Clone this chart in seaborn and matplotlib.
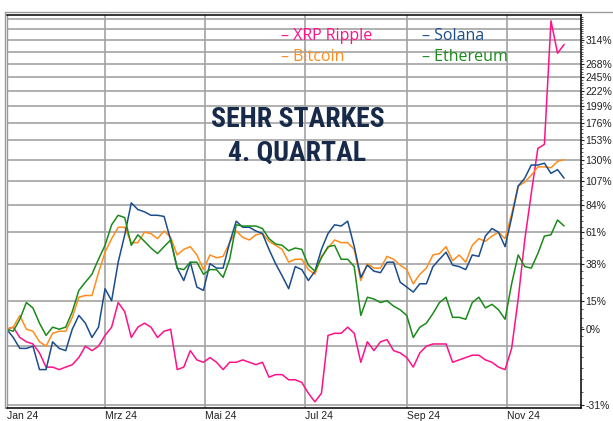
import pandas as pd
import numpy as np
import matplotlib
matplotlib.use("Agg")
import matplotlib.pyplot as plt
import matplotlib.font_manager as fm
from matplotlib.lines import Line2D
from matplotlib.ticker import FixedLocator, NullFormatter
import seaborn as sns

# sample dates, one value every 4 days from 1 Jan 2024
dates = pd.date_range("2024-01-01", periods=86, freq="4D")

# performance since start of year in %
xrp = [0, 1, -4, -6, -7, -11, -17, -17, -18, -17, -16, -13, -8, -10, -8, -3, 1, 14, 9, -4,
       1, 3, 1, -4, -1, 0, -18, -17, -10, -14,
       -15, -13, -15, -18, -15, -15, -14, -15, -16, -15, -21, -20, -20, -22, -22, -23, -27, -30, -27, -3,
       -2, -2, 1, -2, -15, -6, -10, -6, -5,
       -10, -11, -13, -17, -11, -8, -7, -7, -7, -15, -14, -13, -12, -12, -14, -15, -17, -18, -9, 16,
       55, 95, 143, 148, 355, 288, 305]
bitcoin = [0, 1, 7, 0, -1, -6, -8, -2, -1, -1, 6, 17, 18, 18, 32, 46, 56, 65, 65, 53,
           53, 61, 60, 56, 62, 57, 44, 48, 50, 44,
           34, 44, 42, 43, 53, 62, 57, 55, 59, 60, 54, 51, 48, 39, 41, 41, 34, 31, 43, 49,
           55, 53, 53, 48, 27, 38, 35, 35, 43,
           41, 37, 34, 25, 31, 35, 44, 45, 50, 40, 44, 39, 51, 56, 54, 58, 61, 56, 76, 102,
           106, 113, 122, 122, 121, 128, 130]
solana = [0, -4, -9, -9, -8, -18, -18, -6, -9, -10, 0, 7, 3, -4, 1, 22, 15, 39, 59, 86,
          80, 78, 75, 75, 74, 55, 35, 27, 39, 23,
          21, 38, 35, 35, 53, 70, 65, 65, 62, 60, 48, 38, 30, 22, 36, 34, 27, 33, 48, 60,
          67, 66, 70, 50, 29, 37, 33, 32, 39,
          39, 26, 23, 20, 25, 25, 36, 41, 46, 37, 36, 34, 44, 43, 58, 64, 61, 50, 73, 102,
          110, 124, 124, 126, 115, 119, 110]
ethereum = [0, -1, 5, 14, 11, 3, -3, 1, 0, 1, 9, 21, 26, 31, 41, 51, 67, 75, 73, 51,
            59, 54, 49, 45, 50, 55, 35, 34, 39, 39,
            31, 34, 34, 29, 41, 67, 66, 66, 66, 64, 56, 52, 51, 47, 49, 48, 37, 33, 42, 50,
            51, 41, 41, 36, 7, 17, 16, 14, 15,
            12, 10, 7, -4, 1, 3, 8, 14, 17, 6, 6, 5, 14, 17, 11, 13, 10, 5, 25, 44,
            36, 35, 45, 58, 59, 71, 66]

coins = ["XRP Ripple", "Bitcoin", "Solana", "Ethereum"]
colors = ["#ff1188", "#ff8c1c", "#1b4d8c", "#1b8a1b"]

month_ticks = pd.to_datetime(["2024-01-01", "2024-03-01", "2024-05-01",
                              "2024-07-01", "2024-09-01", "2024-11-01"])
month_labels = ["Jan 24", "Mrz 24", "Mai 24", "Jul 24", "Sep 24", "Nov 24"]

grid_pcts = [-31, -8, 15, 38, 61, 84, 107, 130, 153, 176, 199, 222, 245, 268, 291, 314, 337, 360]
tick_pcts = [-31, 0, 15, 38, 61, 84, 107, 130, 153, 176, 199, 222, 245, 268, 314]
minor_pcts = np.arange(-31, 368, 4.6)

# long format for seaborn
df = pd.DataFrame({"date": dates, "XRP Ripple": xrp, "Bitcoin": bitcoin,
                   "Solana": solana, "Ethereum": ethereum})
df = df.melt(id_vars="date", var_name="coin", value_name="pct")

sns.set_style("white")
plt.rcParams["font.family"] = ["Liberation Sans", "DejaVu Sans"]

# pick a condensed bold face for the headline
installed = {f.name for f in fm.fontManager.ttflist}
head_font = next((f for f in ["Roboto Condensed", "Liberation Sans Narrow", "DejaVu Sans"]
                  if f in installed), "DejaVu Sans")

fig = plt.figure(figsize=(6.13, 4.21), dpi=100)
ax = fig.add_axes([6.7 / 613, 1 - 407.7 / 421, (581.3 - 6.7) / 613, (407.7 - 15.3) / 421])

# axis is log(1 + r)
ax.set_yscale("function", functions=(lambda p: np.log1p(np.asarray(p) / 100.0),
                                     lambda u: np.expm1(np.asarray(u)) * 100.0))

for g in grid_pcts:
    ax.axhline(g, color="#a3a3a3", lw=1.2, zorder=0)
for m in month_ticks[1:]:
    ax.axvline(m, color="#a3a3a3", lw=1.2, zorder=0)

sns.lineplot(data=df, x="date", y="pct", hue="coin", hue_order=coins, palette=colors,
             estimator=None, lw=1.1, legend=False, ax=ax)

ax.set_xlim(pd.Timestamp("2024-01-01"), pd.Timestamp("2024-12-16 12:00"))
ax.set_ylim(-32, 367.4)

ax.yaxis.tick_right()
ax.yaxis.set_major_locator(FixedLocator(tick_pcts))
ax.set_yticklabels([f"{t}%" for t in tick_pcts])
ax.yaxis.set_minor_locator(FixedLocator(minor_pcts))
ax.yaxis.set_minor_formatter(NullFormatter())
ax.tick_params(axis="y", which="major", direction="out", length=2.5, width=0.8,
               pad=0.5, labelsize=7.5, colors="#222222", right=True, left=False)
ax.tick_params(axis="y", which="minor", direction="out", length=1.5, width=0.6,
               right=True, left=False, colors="#444444")

ax.set_xticks(month_ticks)
ax.set_xticklabels(month_labels)
for lbl in ax.get_xticklabels():
    lbl.set_ha("left")
ax.tick_params(axis="x", direction="out", length=2.5, width=0.8, pad=0,
               labelsize=7.5, colors="#222222")
ax.set_xlabel("")
ax.set_ylabel("")

for side in ["top", "right", "bottom"]:
    ax.spines[side].set_color("black")
    ax.spines[side].set_linewidth(1.1)
ax.spines["left"].set_color("#9a9a9a")
ax.spines["left"].set_linewidth(1.0)

# outer frame lines
fig.add_artist(Line2D([5.3 / 613, 1], [1 - 11.7 / 421] * 2, color="#9a9a9a", lw=1.0))
fig.add_artist(Line2D([5.3 / 613] * 2, [1 - 11.7 / 421, 1 - 407.7 / 421], color="#9a9a9a", lw=1.0))

# legend as coloured text
legend_pos = [(281, 40), (281, 61.5), (422, 40), (422, 61.5)]
for name, c, (px, py) in zip(coins, colors, legend_pos):
    fig.text(px / 613, 1 - py / 421, "\u2013 " + name, color=c, fontsize=11.5,
             family=["Open Sans", "DejaVu Sans"], ha="left", va="baseline")

# headline
fig.text(297.5 / 613, 1 - 126.7 / 421, "SEHR STARKES", color="#172a4a", fontsize=20,
         family=head_font, fontweight="heavy", fontstretch="condensed", ha="center", va="baseline")
fig.text(297.5 / 613, 1 - 160.5 / 421, "4. QUARTAL", color="#172a4a", fontsize=20,
         family=head_font, fontweight="heavy", fontstretch="condensed", ha="center", va="baseline")

fig.savefig("out.png", dpi=100)
